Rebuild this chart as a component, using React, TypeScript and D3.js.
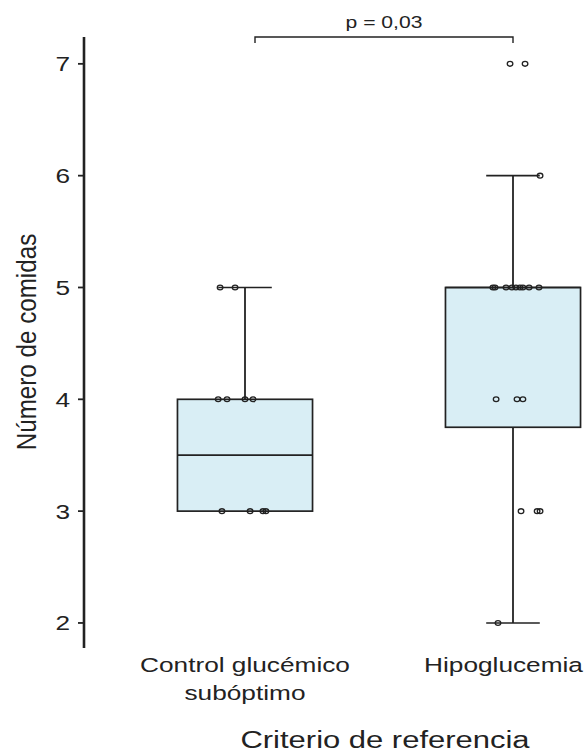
import React from "react";
import * as d3 from "d3";

const categories = ["Control glucémico\nsubóptimo", "Hipoglucemia"];
const q1 = [3, 3.75];
const medians = [3.5, 5];
const q3 = [4, 5];
const whiskerLow = [3, 2];
const whiskerHigh = [5, 6];

// points: group index, value, jitter (fraction of category step)
const pointGroup = [0,0, 0,0,0,0, 0,0,0,0, 1,1, 1, 1,1,1,1,1,1,1,1,1, 1,1,1, 1,1,1, 1];
const pointValue = [5,5, 4,4,4,4, 3,3,3,3, 7,7, 6, 5,5,5,5,5,5,5,5,5, 4,4,4, 3,3,3, 2];
const pointJitter = [
  -0.093, -0.037,
  -0.100, -0.067, 0.000, 0.030,
  -0.086, 0.019, 0.067, 0.078,
  -0.011, 0.045,
  0.101,
  -0.075, -0.067, -0.026, -0.004, 0.011, 0.026, 0.037, 0.060, 0.097,
  -0.063, 0.015, 0.037,
  0.030, 0.090, 0.101,
  -0.056,
];
const yTicks = [2, 3, 4, 5, 6, 7];
const pLabel = "p = 0,03";
const xTitle = "Criterio de referencia";
const yTitle = "Número de comidas";

const W = 585, H = 754;
const font = "Liberation Sans, Arial, sans-serif";
const ink = "#222222";
const SX = 1.28; // horizontal stretch of the reference's text

function T({ x, y, size, anchor = "middle", children, rotate = 0, dy = "0", sx = SX }: any) {
  return (
    <text
      transform={`translate(${x},${y}) scale(${sx},1)${rotate ? ` rotate(${rotate})` : ""}`}
      textAnchor={anchor}
      fontSize={size}
      dy={dy}
      fill={ink}
    >
      {children}
    </text>
  );
}

export default function App() {
  const y = d3.scaleLinear().domain([1.776, 7.24]).range([648, 37]);
  const x = d3.scaleBand<string>().domain(categories).range([111, 647]).padding(0);
  const step = x.step();
  const cx = (i: number) => (x(categories[i]) as number) + x.bandwidth() / 2;
  const boxW = step * 0.504;
  const capW = step * 0.2;
  const axisX = 84;
  const labelSize = 20.5;
  // keep labels inside the page (reference's last label ends at the right edge)
  const labelX = (i: number, line: string) => {
    const est = line.length * 0.505 * labelSize * SX;
    return Math.min(cx(i), W - 2 - est / 2);
  };
  const bx0 = cx(0) + 10;
  const bx1 = cx(1);

  return (
    <svg width={W} height={H} style={{ position: "absolute", left: 0, top: 0 }} fontFamily={font}>
      {/* y axis */}
      <line x1={axisX} x2={axisX} y1={37} y2={648} stroke={ink} strokeWidth={2.6} />
      {yTicks.map((t) => (
        <g key={t}>
          <line x1={axisX - 6} x2={axisX} y1={y(t)} y2={y(t)} stroke={ink} strokeWidth={1.8} />
          <T x={axisX - 14} y={y(t)} size={20.5} anchor="end" dy="0.36em">{t}</T>
        </g>
      ))}
      <T x={26} y={342} size={24.2} rotate={-90} dy="0.35em" sx={1.14}>{yTitle}</T>

      {/* boxes */}
      {categories.map((c, i) => (
        <g key={c}>
          <line x1={cx(i)} x2={cx(i)} y1={y(whiskerHigh[i])} y2={y(q3[i])} stroke={ink} strokeWidth={1.8} />
          <line x1={cx(i)} x2={cx(i)} y1={y(q1[i])} y2={y(whiskerLow[i])} stroke={ink} strokeWidth={1.8} />
          <line x1={cx(i) - capW / 2} x2={cx(i) + capW / 2} y1={y(whiskerHigh[i])} y2={y(whiskerHigh[i])} stroke={ink} strokeWidth={1.6} />
          <line x1={cx(i) - capW / 2} x2={cx(i) + capW / 2} y1={y(whiskerLow[i])} y2={y(whiskerLow[i])} stroke={ink} strokeWidth={1.6} />
          <rect x={cx(i) - boxW / 2} y={y(q3[i])} width={boxW} height={y(q1[i]) - y(q3[i])} fill="#d9eef5" stroke={ink} strokeWidth={1.7} />
          <line x1={cx(i) - boxW / 2} x2={cx(i) + boxW / 2} y1={y(medians[i])} y2={y(medians[i])} stroke={ink} strokeWidth={1.7} />
        </g>
      ))}

      {/* points */}
      {pointValue.map((v, k) => (
        <ellipse key={k} cx={cx(pointGroup[k]) + pointJitter[k] * step} cy={y(v)} rx={2.8} ry={2.4} fill="none" stroke={ink} strokeWidth={1.3} />
      ))}

      {/* x labels */}
      {categories.map((c, i) =>
        c.split("\n").map((line, j) => (
          <T key={`${i}-${j}`} x={labelX(i, line)} y={672 + j * 28} size={labelSize}>{line}</T>
        ))
      )}
      <T x={385} y={748} size={24.2}>{xTitle}</T>

      {/* significance bracket */}
      <path d={`M${bx0},${43}V${37}H${bx1}V${43}`} fill="none" stroke={ink} strokeWidth={1.4} />
      <T x={(bx0 + bx1) / 2} y={28} size={16.5}>{pLabel}</T>
    </svg>
  );
}
